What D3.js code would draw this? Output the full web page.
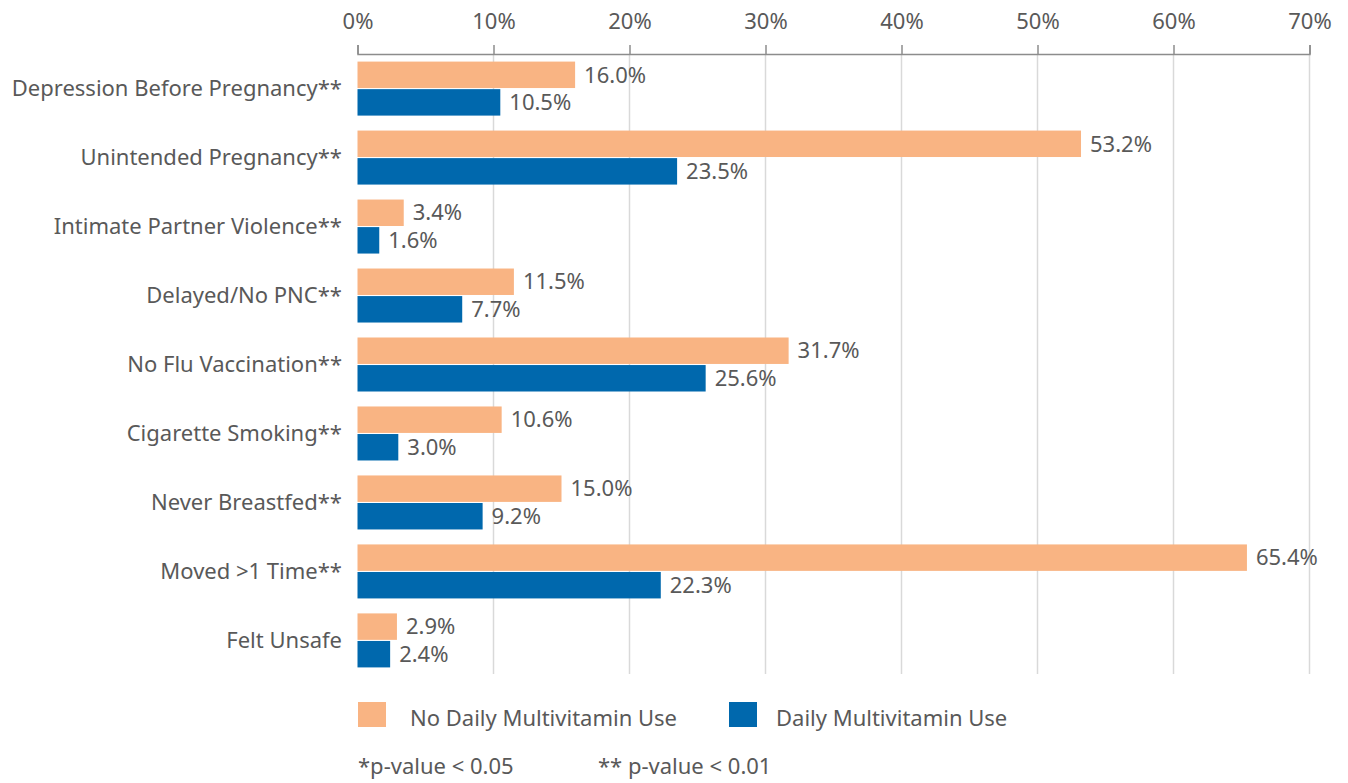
<!DOCTYPE html>
<html>
<head>
<meta charset="utf-8">
<script src="https://cdn.jsdelivr.net/npm/d3@7"></script>
<style>
  body { margin: 0; background: #fff; }
  text { font-family: "Noto Sans", sans-serif; fill: #595959; }
</style>
</head>
<body>
<div id="chart"></div>
<script>
// datos
const categories = [
  'Depression Before Pregnancy**',
  'Unintended Pregnancy**',
  'Intimate Partner Violence**',
  'Delayed/No PNC**',
  'No Flu Vaccination**',
  'Cigarette Smoking**',
  'Never Breastfed**',
  'Moved >1 Time**',
  'Felt Unsafe'
];
const noDaily = [16.0, 53.2, 3.4, 11.5, 31.7, 10.6, 15.0, 65.4, 2.9];
const daily = [10.5, 23.5, 1.6, 7.7, 25.6, 3.0, 9.2, 22.3, 2.4];
const seriesNames = ['No Daily Multivitamin Use', 'Daily Multivitamin Use'];
const xTicks = [0, 10, 20, 30, 40, 50, 60, 70];
const footnotes = ['*p-value < 0.05', '** p-value < 0.01'];

const colors = ['#F9B483', '#0068AD'];
const width = 1348;
const height = 783;
const fs = 22;

const svg = d3.select('#chart').append('svg')
  .attr('width', width)
  .attr('height', height);

const x = d3.scaleLinear().domain([0, 70]).range([357.5, 1309.5]);
const y = d3.scaleBand().domain(categories).range([54, 675])
  .paddingInner(0.217).paddingOuter(0.11);
const ySub = d3.scaleBand().domain([0, 1]).range([0, y.bandwidth()]).paddingInner(0.04);

// lineas de rejilla
svg.append('g').selectAll('line')
  .data(xTicks.slice(1))
  .enter().append('line')
  .attr('x1', d => x(d)).attr('x2', d => x(d))
  .attr('y1', 54).attr('y2', 674)
  .attr('stroke', '#d9d9d9').attr('stroke-width', 1.5);

// eje superior
const xAxis = d3.axisTop(x).tickValues(xTicks).tickSize(9).tickPadding(16)
  .tickFormat(d => d + '%');
const gx = svg.append('g').attr('transform', 'translate(0,54)').call(xAxis);
gx.select('.domain').attr('stroke', '#8c8c8c').attr('stroke-width', 1.5);
gx.selectAll('.tick line').attr('stroke', '#8c8c8c').attr('stroke-width', 1.5);
gx.selectAll('.tick text').attr('font-size', fs).attr('fill', '#595959')
  .style('font-family', '"Noto Sans", sans-serif');

// barras
const rows = categories.map((c, i) => ({ cat: c, vals: [noDaily[i], daily[i]] }));
const groups = svg.selectAll('.row')
  .data(rows)
  .enter().append('g')
  .attr('class', 'row')
  .attr('transform', d => `translate(0,${y(d.cat)})`);

groups.selectAll('rect')
  .data(d => d.vals.map((v, k) => ({ v, k })))
  .enter().append('rect')
  .attr('x', x(0))
  .attr('y', d => ySub(d.k))
  .attr('width', d => x(d.v) - x(0))
  .attr('height', ySub.bandwidth())
  .attr('fill', d => colors[d.k]);

groups.selectAll('.val')
  .data(d => d.vals.map((v, k) => ({ v, k })))
  .enter().append('text')
  .attr('class', 'val')
  .attr('x', d => x(d.v) + 9)
  .attr('y', d => ySub(d.k) + ySub.bandwidth() / 2)
  .attr('dy', '0.35em')
  .attr('font-size', fs)
  .text(d => d.v.toFixed(1) + '%');

// etiquetas de categorias
groups.append('text')
  .attr('x', 342)
  .attr('y', y.bandwidth() / 2)
  .attr('dy', '0.35em')
  .attr('text-anchor', 'end')
  .attr('font-size', fs)
  .text(d => d.cat);

// leyenda
const legendX = [358, 729];
const legend = svg.append('g');
seriesNames.forEach((s, k) => {
  legend.append('rect')
    .attr('x', legendX[k]).attr('y', 702)
    .attr('width', 28).attr('height', 25)
    .attr('fill', colors[k]);
  legend.append('text')
    .attr('x', legendX[k] + (k === 0 ? 52 : 47)).attr('y', 718)
    .attr('dy', '0.35em')
    .attr('font-size', fs)
    .text(s);
});

// notas
const noteX = [358, 598];
footnotes.forEach((t, k) => {
  svg.append('text')
    .attr('x', noteX[k]).attr('y', 766)
    .attr('dy', '0.35em')
    .attr('font-size', fs)
    .text(t);
});
</script>
</body>
</html>
